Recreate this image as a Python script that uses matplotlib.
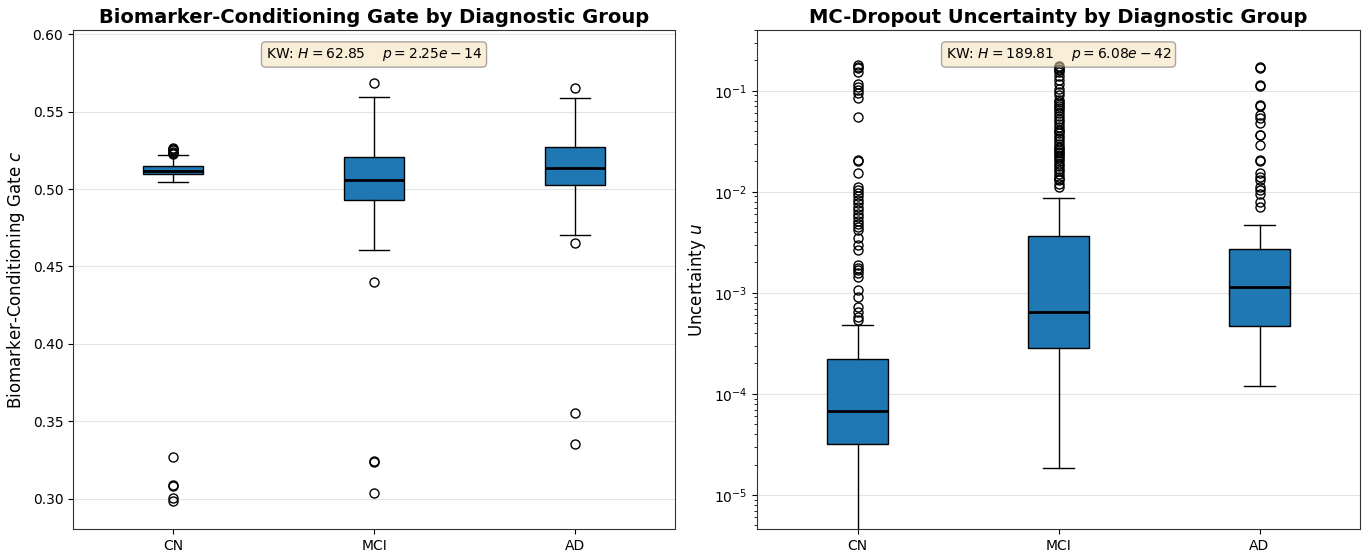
import matplotlib
matplotlib.use("Agg")
import matplotlib.pyplot as plt

groups = ["CN", "MCI", "AD"]

# Left panel: biomarker-conditioning gate c (box statistics)
gate_q1 = [0.5094, 0.4929, 0.5028]
gate_med = [0.5118, 0.5056, 0.5135]
gate_q3 = [0.5146, 0.5208, 0.5269]
gate_whislo = [0.5045, 0.4608, 0.4701]
gate_whishi = [0.5219, 0.5594, 0.5585]
gate_fliers_cn = [0.5225, 0.5232, 0.5240, 0.5250, 0.5258, 0.5265, 0.3272, 0.3092, 0.3081, 0.3006, 0.2985]
gate_fliers_mci = [0.5681, 0.4397, 0.3245, 0.3240, 0.3039]
gate_fliers_ad = [0.5654, 0.4652, 0.3553, 0.3352]
gate_kw = "KW: $H = 62.85$    $p = 2.25e-14$"

# Right panel: MC-dropout uncertainty u
unc_q1 = [3.17e-5, 2.82e-4, 4.69e-4]
unc_med = [6.83e-5, 6.49e-4, 1.155e-3]
unc_q3 = [2.21e-4, 3.66e-3, 2.70e-3]
unc_whislo = [2.0e-6, 1.84e-5, 1.21e-4]
unc_whishi = [4.85e-4, 8.6e-3, 4.65e-3]
unc_fliers_cn = [0.179, 0.172, 0.167, 0.154, 0.116, 0.108, 0.1016, 0.095, 0.084, 0.055,
                 0.0205, 0.0200, 0.0152,
                 0.0112, 0.0104, 0.0097, 0.0090, 0.0083, 0.0077, 0.0071, 0.0066, 0.0061,
                 0.0057, 0.0052, 0.0048, 0.0045, 0.0042,
                 0.00347, 0.00295, 0.00263,
                 0.00189, 0.00178, 0.00168, 0.00158, 0.00145,
                 0.00106, 0.00091, 0.00073, 0.00065, 0.00058, 0.00054]
unc_fliers_mci = [0.178, 0.172, 0.166, 0.160, 0.152, 0.140, 0.128, 0.118, 0.105, 0.098,
                  0.090, 0.082, 0.078, 0.074, 0.071, 0.068, 0.064, 0.060, 0.056, 0.053,
                  0.050, 0.047, 0.044, 0.041, 0.040, 0.038, 0.036, 0.034, 0.032, 0.030,
                  0.028, 0.027, 0.026, 0.025, 0.024, 0.023, 0.022, 0.021, 0.020, 0.019,
                  0.018, 0.017, 0.016, 0.015, 0.014, 0.0135, 0.013, 0.012, 0.0112]
unc_fliers_ad = [0.172, 0.168, 0.113, 0.111, 0.073, 0.071, 0.0575, 0.0533, 0.0476,
                 0.0366, 0.0362, 0.029, 0.0208, 0.0204, 0.0152, 0.0141, 0.0130,
                 0.0112, 0.0104, 0.0096, 0.0080, 0.0071]
unc_kw = "KW: $H = 189.81$    $p = 6.08e-42$"


def make_stats(q1, med, q3, lo, hi, fliers):
    out = []
    for i, g in enumerate(groups):
        out.append(dict(label=g, q1=q1[i], med=med[i], q3=q3[i],
                        whislo=lo[i], whishi=hi[i], fliers=fliers[i]))
    return out


fig = plt.figure(figsize=(13.7, 5.59), dpi=100)
ax1 = fig.add_axes([0.0533, 0.0537, 0.4394, 0.8926])
ax2 = fig.add_axes([0.5526, 0.0537, 0.4401, 0.8926])

boxprops = dict(facecolor="#1f77b4", edgecolor="black", linewidth=1.0)
medianprops = dict(color="black", linewidth=2.0)
flierprops = dict(marker="o", markerfacecolor="none", markeredgecolor="black",
                  markersize=6.5, markeredgewidth=1.0)

panels = [
    (ax1, make_stats(gate_q1, gate_med, gate_q3, gate_whislo, gate_whishi,
                     [gate_fliers_cn, gate_fliers_mci, gate_fliers_ad]),
     "Biomarker-Conditioning Gate by Diagnostic Group", "Biomarker-Conditioning Gate $c$", gate_kw),
    (ax2, make_stats(unc_q1, unc_med, unc_q3, unc_whislo, unc_whishi,
                     [unc_fliers_cn, unc_fliers_mci, unc_fliers_ad]),
     "MC-Dropout Uncertainty by Diagnostic Group", "Uncertainty $u$", unc_kw),
]

for ax, stats, title, ylabel, kw in panels:
    ax.bxp(stats, positions=[1, 2, 3], widths=0.3, patch_artist=True,
           boxprops=boxprops, medianprops=medianprops, flierprops=flierprops,
           whiskerprops=dict(color="black", linewidth=1.0),
           capprops=dict(color="black", linewidth=1.0))
    ax.set_xlim(0.5, 3.5)
    ax.set_title(title, fontsize=14, fontweight="bold", pad=5)
    ax.set_ylabel(ylabel, fontsize=12)
    ax.yaxis.grid(True, color="#dddddd", linewidth=0.8, alpha=0.8)
    ax.set_axisbelow(True)
    ax.text(0.5, 0.968, kw, transform=ax.transAxes, ha="center", va="top", fontsize=10,
            bbox=dict(boxstyle="round,pad=0.3", facecolor="wheat", alpha=0.5, edgecolor="#555555"))
    for sp in ax.spines.values():
        sp.set_color("#333333")

ax1.set_ylim(0.2806, 0.6026)
ax1.set_yticks([0.30, 0.35, 0.40, 0.45, 0.50, 0.55, 0.60])

ax2.set_yscale("log")
ax2.set_ylim(4.6e-6, 0.40)

fig.savefig("out.png", dpi=100)
